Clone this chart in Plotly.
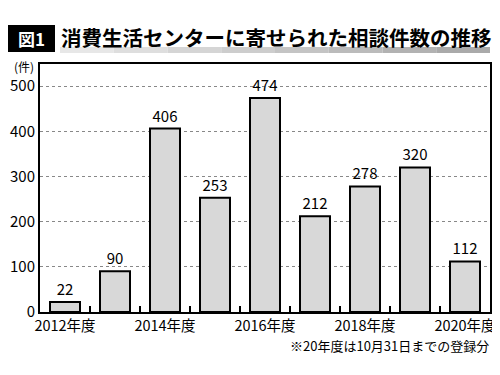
import plotly.graph_objects as go

years = ["2012", "2013", "2014", "2015", "2016", "2017", "2018", "2019", "2020"]
counts = [22, 90, 406, 253, 474, 212, 278, 320, 112]
tick_text = ["2012年度", "", "2014年度", "", "2016年度", "", "2018年度", "", "2020年度"]
y_ticks = [0, 100, 200, 300, 400, 500]

title_text = "消費生活センターに寄せられた相談件数の推移"
fig_label = "図1"
unit_label = "(件)"
footnote = "※20年度は10月31日までの登録分"

FONT = "Noto Sans CJK JP"

# page has an 8px body margin; figure drawn at page offset (8, 8)
OFF = 8
W, H = 500 - OFF, 375 - OFF
# plot area in page pixels: x 40..490, y 64..312
L, R, T, B = 40 - OFF, 490 - OFF, 64 - OFF, 312 - OFF
def px(x):
    return (x - OFF - L) / (R - L)
def py(y):
    return (B - (y - OFF)) / (B - T)

fig = go.Figure(go.Bar(
    x=years, y=counts,
    text=[str(v) for v in counts], textposition="outside",
    textfont=dict(size=15, color="black", family=FONT),
    marker=dict(color="#d8d8d8", line=dict(color="black", width=2)),
    width=0.6, cliponaxis=False,
))

shapes = []
# title black box
shapes.append(dict(type="rect", xref="paper", yref="paper",
                   x0=px(8), x1=px(55), y0=py(52), y1=py(25),
                   fillcolor="black", line=dict(width=0), layer="above"))
# gray underline with gradient
segs = 8
x_start, x_end = 60, 490
for i in range(segs):
    g = int(240 - (240 - 170) * (i + 1) / segs)
    shapes.append(dict(type="rect", xref="paper", yref="paper",
                       x0=px(x_start + (x_end - x_start) * i / segs),
                       x1=px(x_start + (x_end - x_start) * (i + 1) / segs),
                       y0=py(53), y1=py(47),
                       fillcolor=f"rgb({g},{g},{g})", line=dict(width=0), layer="below"))

annotations = [
    dict(text=f"<b>{fig_label}</b>", xref="paper", yref="paper", x=px(31.5), y=py(38.5),
         xanchor="center", yanchor="middle", showarrow=False,
         font=dict(size=17, color="white", family=FONT)),
    dict(text=f"<b>{title_text}</b>", xref="paper", yref="paper", x=px(59), y=py(37),
         xanchor="left", yanchor="middle", showarrow=False,
         font=dict(size=20.5, color="black", family=FONT)),
    dict(text=unit_label, xref="paper", yref="paper", x=px(36), y=py(66),
         xanchor="right", yanchor="middle", showarrow=False,
         font=dict(size=12, color="black", family=FONT)),
    dict(text=footnote, xref="paper", yref="paper", x=px(491), y=py(345),
         xanchor="right", yanchor="middle", showarrow=False,
         font=dict(size=13, color="black", family=FONT)),
]

fig.update_layout(
    width=W, height=H,
    margin=dict(l=L, r=W - R, t=T, b=H - B, autoexpand=False),
    paper_bgcolor="white", plot_bgcolor="white",
    showlegend=False, bargap=0.4,
    shapes=shapes, annotations=annotations,
    font=dict(family=FONT, color="black"),
)
fig.update_xaxes(
    type="category", categoryorder="array", categoryarray=years,
    tickvals=years, ticktext=tick_text, tickson="boundaries",
    ticks="inside", ticklen=6, tickwidth=2, tickcolor="black",
    showline=True, linecolor="black", linewidth=2, mirror=True,
    showgrid=False, tickfont=dict(size=14.5, color="black", family=FONT),
    tickangle=0, automargin=False,
    range=[-0.5, 8.5],
)
fig.update_yaxes(
    range=[0, 549], tickvals=y_ticks, ticks="",
    showline=True, linecolor="black", linewidth=2, mirror=True,
    showgrid=True, gridcolor="#888888", griddash="dot", gridwidth=1,
    zeroline=False, tickfont=dict(size=15, color="black", family=FONT),
    automargin=False,
)

fig.write_html("out.html")
